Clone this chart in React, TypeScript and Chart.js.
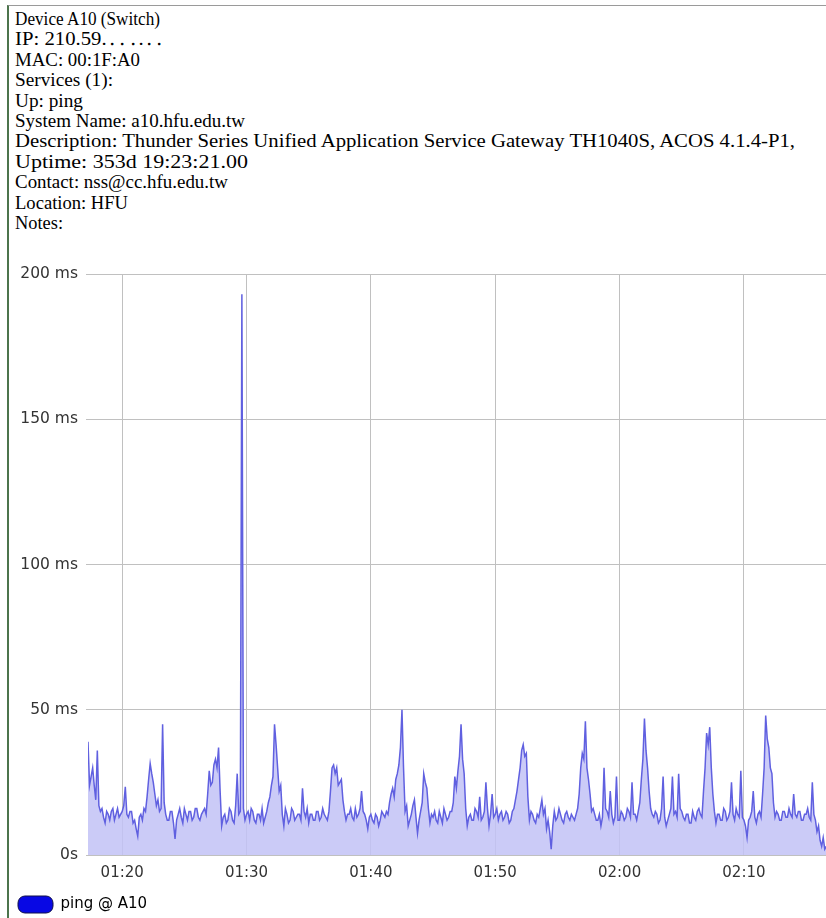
import React, { useEffect, useRef } from "react";
import { Chart, registerables } from "chart.js";

Chart.register(...registerables);

// Device information lines (top text block) and their rendered widths in px
const infoLines: string[] = [
  "Device A10 (Switch)",
  "IP: 210.59.\u2024\u2024\u2024.\u2024\u2024",
  "MAC: 00:1F:A0",
  "Services (1):",
  "Up: ping",
  "System Name: a10.hfu.edu.tw",
  "Description: Thunder Series Unified Application Service Gateway TH1040S, ACOS 4.1.4-P1,",
  "Uptime: 353d 19:23:21.00",
  "Contact: nss@cc.hfu.edu.tw",
  "Location: HFU",
  "Notes:",
];
const infoWidths: number[] = [145, 150, 125, 98, 68, 230, 780, 233, 213, 113, 48];

const seriesLabel = "ping @ A10";

// Time axis (minutes after 01:00), one sample every 7.5 s
const START_MIN = 77.25;
const STEP_MIN = 0.125;
const X_MIN = 77.25;
const X_MAX = 136.6;

// ping values in ms
const ping0117 = [39, 24, 27, 30, 24, 19, 36, 17, 15, 16, 13, 11, 15, 14, 12, 15, 16, 12, 14, 16, 13, 14];
const ping0120 = [
  15, 17, 23.5, 14, 13, 15, 15, 11, 12, 9, 6.5, 13, 14, 12, 16, 15, 20, 26, 31.5, 28,
  25, 21, 17, 19, 15, 16, 45, 18, 14, 12, 12, 15, 15, 11, 5.5, 12, 14, 16, 13, 11,
  16, 14, 12, 15, 15, 12, 13, 16, 16, 13, 12, 14, 15, 16, 14, 21, 29, 24, 25, 31,
  33, 30, 37, 22, 10, 13, 14, 11, 12, 16, 15, 12, 11, 17, 28, 14, 15, 193,
];
const ping0130 = [
  16, 12, 14, 15, 12, 16, 15, 12, 11, 14, 14, 12, 16, 11, 13, 15, 18, 20, 24, 27,
  45, 38, 30, 22, 24, 14, 10, 16, 14, 11, 12, 16, 15, 12, 13, 14, 14, 12, 23, 15,
  13, 16, 11, 14, 14, 12, 12, 15, 15, 12, 13, 16, 14, 13, 12, 15, 22, 30, 31, 28,
  30, 24, 25, 26, 19, 15, 12, 14, 14, 16, 13, 12, 16, 13, 14, 16, 22, 15, 14, 12,
];
const ping0140 = [
  9, 13, 14, 12, 11, 14, 13, 10, 12, 15, 14, 13, 15, 14, 18, 21, 23, 20, 26, 28,
  31, 37, 50, 30, 15, 17, 10, 12, 14, 17, 19, 13, 7.5, 12, 15, 18, 28, 25, 23, 16,
  11, 14, 13, 15, 12, 11, 15, 13, 11, 16, 14, 12, 13, 15, 15, 18, 27, 23, 29, 34,
  45, 33, 28, 16, 10, 13, 14, 12, 12, 16, 15, 13, 20, 12, 13, 15, 25, 16, 10, 14,
];
const ping0150 = [
  21, 13, 14, 16, 12, 14, 15, 12, 13, 15, 14, 11, 12, 15, 16, 19, 22, 26, 30, 36,
  38, 34, 35, 20, 12, 15, 14, 12, 11, 14, 13, 16, 19, 14, 16, 9, 12, 8, 2, 10,
  15, 12, 13, 16, 14, 12, 11, 14, 15, 13, 12, 14, 13, 12, 14, 16, 21, 30, 35, 33,
  46, 30, 26, 21, 15, 16, 14, 12, 12, 14, 10, 13, 30, 16, 15, 13, 22, 14, 11, 13,
];
const ping0200 = [
  27, 12, 12, 15, 14, 12, 13, 16, 15, 13, 25, 14, 14, 12, 15, 18, 26, 33, 47, 36,
  30, 22, 16, 14, 13, 15, 14, 11, 12, 16, 27, 13, 10, 12, 14, 16, 27, 14, 15, 13,
  28, 16, 15, 13, 12, 14, 14, 11, 11, 15, 13, 12, 15, 16, 14, 13, 22, 30, 42, 38,
  44, 30, 21, 15, 11, 14, 14, 12, 12, 16, 15, 12, 13, 15, 25, 14, 12, 16, 14, 13,
];
const ping0210 = [
  29, 13, 12, 10, 6, 12, 13, 15, 22, 13, 11, 14, 15, 13, 21, 30, 48, 40, 37, 30,
  28, 18, 13, 15, 14, 12, 12, 15, 15, 13, 13, 16, 14, 13, 21, 14, 13, 15, 15, 12,
  12, 14, 14, 16, 13, 12, 25, 14, 12, 8, 10, 5, 3, 6, 2, 3,
];

const pingMs = [...ping0117, ...ping0120, ...ping0130, ...ping0140, ...ping0150, ...ping0200, ...ping0210];

const yTicks = [0, 50, 100, 150, 200];

const GRID = "#c0c0c0";
const LINE = "#6060e0";
const FILL = "rgba(194,194,246,0.85)";
const TICK_FONT = { family: "'DejaVu Sans', Verdana, sans-serif", size: 15 };

function fmtTime(v: number): string {
  const h = Math.floor(v / 60);
  const m = Math.round(v - h * 60);
  return String(h).padStart(2, "0") + ":" + String(m).padStart(2, "0");
}

export default function App() {
  const canvasRef = useRef<HTMLCanvasElement>(null);

  useEffect(() => {
    const canvas = canvasRef.current;
    if (!canvas) return;
    const points = pingMs.map((v, i) => ({ x: START_MIN + i * STEP_MIN, y: v }));
    const chart = new Chart(canvas, {
      type: "line",
      data: {
        datasets: [
          {
            label: seriesLabel,
            data: points,
            borderColor: LINE,
            backgroundColor: FILL,
            fill: "origin",
            borderWidth: 1.5,
            pointRadius: 0,
            tension: 0,
          },
        ],
      },
      options: {
        responsive: false,
        maintainAspectRatio: false,
        animation: false,
        layout: { padding: { top: 19, left: 0, right: 0, bottom: 0 } },
        plugins: {
          tooltip: { enabled: false },
          legend: {
            position: "bottom",
            align: "start",
            labels: {
              boxWidth: 35,
              boxHeight: 17,
              useBorderRadius: true,
              borderRadius: 7,
              padding: 10,
              color: "#222",
              font: TICK_FONT,
              generateLabels: () => [
                {
                  text: seriesLabel,
                  fillStyle: "#0808e4",
                  strokeStyle: "#10104a",
                  lineWidth: 1,
                  hidden: false,
                  datasetIndex: 0,
                  borderRadius: 7,
                } as any,
              ],
            },
          },
        },
        scales: {
          x: {
            type: "linear",
            min: X_MIN,
            max: X_MAX,
            afterFit: (s: any) => {
              s.height = 31;
            },
            ticks: {
              stepSize: 10,
              includeBounds: false,
              padding: 9,
              color: "#333",
              font: TICK_FONT,
              maxRotation: 0,
              callback: (v: any) => fmtTime(Number(v)),
            },
            grid: { color: GRID, drawTicks: false },
            border: { color: GRID },
          },
          y: {
            min: 0,
            max: 200,
            afterFit: (s: any) => {
              s.width = 80;
            },
            afterBuildTicks: (s: any) => {
              s.ticks = yTicks.map((v) => ({ value: v }));
            },
            ticks: {
              padding: 8,
              color: "#333",
              font: { ...TICK_FONT, size: 15.5 },
              callback: (v: any) => (Number(v) === 0 ? "0s" : `${v} ms`),
            },
            grid: { color: GRID, tickLength: 2 },
            border: { display: false },
          },
        },
      } as any,
    });
    return () => chart.destroy();
  }, []);

  return (
    <div
      style={{
        position: "fixed",
        left: 0,
        top: 0,
        width: 826,
        height: 918,
        overflow: "hidden",
        background: "#fff",
      }}
    >
      <div
        style={{
          position: "absolute",
          left: 7,
          top: 5,
          width: 830,
          height: 930,
          borderTop: "1px solid #9a9a9a",
          borderLeft: "2px solid #4c744c",
        }}
      />
      <svg
        width={826}
        height={240}
        style={{ position: "absolute", left: 0, top: 0, display: "block" }}
      >
        {infoLines.map((t, i) => (
          <text
            key={i}
            x={15}
            y={25 + i * 20.4}
            textLength={infoWidths[i]}
            lengthAdjust="spacingAndGlyphs"
            fontFamily="'Liberation Serif', 'Times New Roman', serif"
            fontSize={19.5}
            fill="#000"
          >
            {t}
          </text>
        ))}
      </svg>
      <canvas
        ref={canvasRef}
        width={818}
        height={668}
        style={{ position: "absolute", left: 8, top: 255, display: "block" }}
      />
    </div>
  );
}
